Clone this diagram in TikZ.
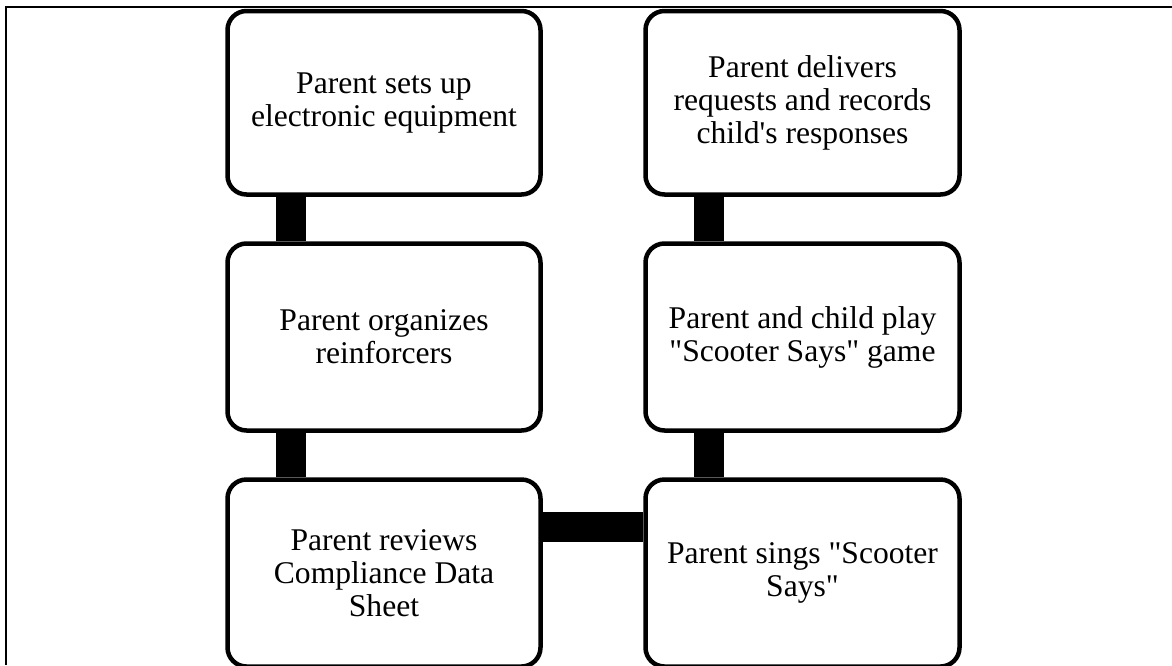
\documentclass[tikz,border=0pt]{standalone}
\usepackage{fontspec}
\setmainfont{Liberation Serif}[Ligatures=TeXOff]
\usetikzlibrary{backgrounds}

\tikzset{
  stepbox/.style={draw=black, fill=white, line width=4.5pt, rounded corners=19pt,
    align=center, inner sep=0pt, font=\fontsize{31.6}{33}\selectfont},
  leftcol/.style={stepbox, minimum width=313pt},
  rightcol/.style={stepbox, minimum width=314pt},
  link/.style={draw=black, line width=30pt},
  frame/.style={draw=black, line width=1.5pt}
}

\begin{document}
\begin{tikzpicture}[x=1pt, y=-1pt]
\useasboundingbox (0,0) rectangle (1172,665);

% outer frame (top and left edges)
\coordinate (ftl) at (6,7);
\coordinate (ftr) at (1172,7);
\coordinate (fbl) at (6,665);
\draw[frame] (fbl) -- (ftl) -- (ftr);

% left column, top to bottom
\node[leftcol, minimum height=183.5pt] (b1) at (384,102.75) {Parent sets up\\electronic equipment};
\node[leftcol, minimum height=187pt] (b2) at (384,337) {Parent organizes\\reinforcers};
\node[leftcol, minimum height=187pt] (b3) at (384,573) {Parent reviews\\Compliance Data\\Sheet};

% right column, bottom to top
\node[rightcol, minimum height=187pt] (b4) at (802.5,573) {Parent sings "Scooter\\Says"};
\node[rightcol, minimum height=187pt] (b5) at (802.5,337) {Parent and child play\\"Scooter Says" game};
\node[rightcol, minimum height=183.5pt] (b6) at (802.5,102.75) {Parent delivers\\requests and records\\child's responses};

% thick connecting bars behind the boxes
\begin{scope}[on background layer]
  \draw[link] ([xshift=-93.5pt]b1.south) -- ([xshift=-93.5pt]b2.north);
  \draw[link] ([xshift=-93.5pt]b2.south) -- ([xshift=-93.5pt]b3.north);
  \draw[link] ([yshift=46.5pt]b3.east) -- ([yshift=46.5pt]b4.west);
  \draw[link] ([xshift=-93.5pt]b4.north) -- ([xshift=-93.5pt]b5.south);
  \draw[link] ([xshift=-93.5pt]b5.north) -- ([xshift=-93.5pt]b6.south);
\end{scope}
\end{tikzpicture}
\end{document}
